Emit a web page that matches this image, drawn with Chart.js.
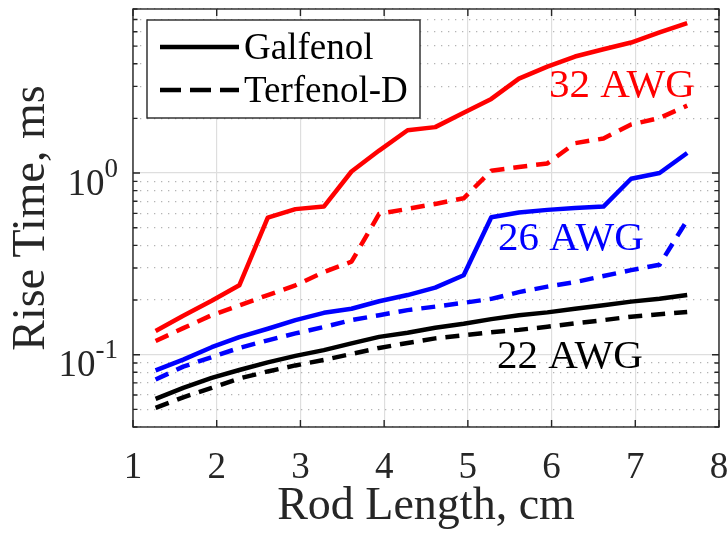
<!DOCTYPE html>
<html>
<head>
<meta charset="utf-8">
<script src="https://cdn.jsdelivr.net/npm/chart.js@4.4.1/dist/chart.umd.min.js"></script>
<style>
  html, body { margin: 0; padding: 0; background: #fff; }
  #wrap { width: 728px; height: 533px; }
</style>
</head>
<body>
<div id="wrap"><canvas id="riseChart"></canvas></div>
<script>
// rod lengths, cm (0.5 in to 3 in)
const rodLength = [1.27, 1.60, 1.94, 2.27, 2.61, 2.94, 3.28, 3.61, 3.94, 4.28,
                   4.61, 4.95, 5.28, 5.61, 5.95, 6.28, 6.62, 6.95, 7.29, 7.62];

// rise time, ms
const galfenol32 = [0.135, 0.164, 0.198, 0.241, 0.569, 0.633, 0.654, 1.02, 1.33, 1.72,
                    1.79, 2.15, 2.56, 3.31, 3.85, 4.38, 4.80, 5.23, 5.94, 6.68];
const terfenol32 = [0.119, 0.140, 0.165, 0.187, 0.213, 0.241, 0.285, 0.325, 0.596, 0.635,
                    0.676, 0.726, 1.03, 1.08, 1.13, 1.46, 1.55, 1.85, 2.01, 2.35];
const galfenol26 = [0.0819, 0.094, 0.110, 0.125, 0.139, 0.155, 0.170, 0.179, 0.197, 0.213,
                    0.234, 0.274, 0.571, 0.607, 0.627, 0.643, 0.654, 0.930, 1.00, 1.29];
const terfenol26 = [0.073, 0.086, 0.097, 0.109, 0.120, 0.131, 0.142, 0.155, 0.165, 0.176,
                    0.184, 0.193, 0.203, 0.221, 0.237, 0.251, 0.271, 0.292, 0.313, 0.55];
const galfenol22 = [0.0571, 0.0657, 0.0745, 0.0824, 0.0907, 0.0985, 0.106, 0.1155, 0.1254, 0.132,
                    0.1406, 0.148, 0.157, 0.165, 0.171, 0.179, 0.187, 0.196, 0.203, 0.213];
const terfenol22 = [0.051, 0.0583, 0.0656, 0.074, 0.0809, 0.0873, 0.0936, 0.101, 0.109, 0.116,
                    0.123, 0.128, 0.133, 0.137, 0.1425, 0.149, 0.155, 0.162, 0.167, 0.172];

const xTicks = [1, 2, 3, 4, 5, 6, 7, 8];
const yTicks = [0.04, 0.05, 0.06, 0.07, 0.08, 0.09, 0.1, 0.2, 0.3, 0.4, 0.5, 0.6, 0.7, 0.8, 0.9,
                1, 2, 3, 4, 5, 6, 7, 8];
const yDecades = [0.1, 1];

const legendNames = ["Galfenol", "Terfenol-D"];
const wireLabels = ["32 AWG", "26 AWG", "22 AWG"];
// label centres in data units (rod length, rise time)
const wireLabelX = [6.84, 6.23, 6.22];
const wireLabelY = [3.0, 0.434, 0.0966];
const wireColors = ["#ff0000", "#0000ff", "#000000"];

const FONT = "'Liberation Serif', 'Times New Roman', serif";
const AXIS_COLOR = "#262626";
const CURVE_DASH = [14, 9];

function series(label, values, color, dashed) {
    return {
        label: label,
        data: values.map((v, i) => ({ x: rodLength[i], y: v })),
        borderColor: color,
        backgroundColor: color,
        borderWidth: 4.5,
        borderDash: dashed ? CURVE_DASH : [],
        borderCapStyle: "butt",
        borderJoinStyle: "round",
        pointRadius: 0,
        pointHoverRadius: 0,
        tension: 0,
        fill: false,
    };
}

const isDecade = (v) => yDecades.some(d => Math.abs(d - v) < 1e-9);

// axes box, inward ticks, decade labels, wire labels and legend
const matlabLook = {
    id: "matlabLook",
    afterDatasetsDraw(chart) {
        const ctx = chart.ctx;
        const xs = chart.scales.x;
        const ys = chart.scales.y;
        ctx.save();
        ctx.textAlign = "center";
        ctx.textBaseline = "middle";
        ctx.font = "41px " + FONT;
        wireLabels.forEach((t, i) => {
            ctx.fillStyle = wireColors[i];
            ctx.fillText(t, xs.getPixelForValue(wireLabelX[i]), ys.getPixelForValue(wireLabelY[i]));
        });
        ctx.restore();
    },
    afterDraw(chart) {
        const ctx = chart.ctx;
        const a = chart.chartArea;
        const xs = chart.scales.x;
        const ys = chart.scales.y;
        ctx.save();

        // frame
        ctx.strokeStyle = AXIS_COLOR;
        ctx.lineWidth = 1.4;
        ctx.setLineDash([]);
        ctx.strokeRect(a.left, a.top, a.right - a.left, a.bottom - a.top);

        // inward ticks
        ctx.beginPath();
        xTicks.forEach(v => {
            const px = xs.getPixelForValue(v);
            ctx.moveTo(px, a.bottom); ctx.lineTo(px, a.bottom - 7);
            ctx.moveTo(px, a.top); ctx.lineTo(px, a.top + 7);
        });
        yTicks.forEach(v => {
            const py = ys.getPixelForValue(v);
            const len = isDecade(v) ? 7 : 4.5;
            ctx.moveTo(a.left, py); ctx.lineTo(a.left + len, py);
            ctx.moveTo(a.right, py); ctx.lineTo(a.right - len, py);
        });
        ctx.stroke();

        // decade labels 10^n
        ctx.fillStyle = AXIS_COLOR;
        ctx.textBaseline = "alphabetic";
        yDecades.forEach(v => {
            const py = ys.getPixelForValue(v);
            const exp = String(Math.round(Math.log10(v)));
            const rightEdge = a.left - 15;
            ctx.font = "27px " + FONT;
            const wExp = ctx.measureText(exp).width;
            ctx.textAlign = "left";
            ctx.fillText(exp, rightEdge - wExp, py + 3.5);
            ctx.font = "37px " + FONT;
            ctx.textAlign = "right";
            ctx.fillText("10", rightEdge - wExp, py + 21.5);
        });

        // legend
        const lx = a.left + 14, ly = a.top + 11, lw = 273, lh = 98;
        ctx.fillStyle = "#ffffff";
        ctx.fillRect(lx, ly, lw, lh);
        ctx.strokeStyle = AXIS_COLOR;
        ctx.lineWidth = 1.4;
        ctx.strokeRect(lx, ly, lw, lh);
        legendNames.forEach((name, i) => {
            const cy = ly + 27 + i * 43;
            ctx.strokeStyle = "#000000";
            ctx.lineWidth = 4.5;
            ctx.lineCap = "butt";
            ctx.setLineDash(i === 0 ? [] : [21, 9]);
            ctx.beginPath();
            ctx.moveTo(lx + 13, cy);
            ctx.lineTo(lx + 92, cy);
            ctx.stroke();
            ctx.setLineDash([]);
            ctx.fillStyle = "#000000";
            ctx.font = "37px " + FONT;
            ctx.textAlign = "left";
            ctx.textBaseline = "middle";
            ctx.fillText(name, lx + 97, cy + 2);
        });
        ctx.restore();
    }
};

const ctxEl = document.getElementById("riseChart").getContext("2d");
new Chart(ctxEl, {
    type: "line",
    data: {
        datasets: [
            series("32 AWG Galfenol", galfenol32, "#ff0000", false),
            series("32 AWG Terfenol-D", terfenol32, "#ff0000", true),
            series("26 AWG Galfenol", galfenol26, "#0000ff", false),
            series("26 AWG Terfenol-D", terfenol26, "#0000ff", true),
            series("22 AWG Galfenol", galfenol22, "#000000", false),
            series("22 AWG Terfenol-D", terfenol22, "#000000", true),
        ]
    },
    options: {
        responsive: true,
        maintainAspectRatio: false,
        animation: false,
        events: [],
        layout: { padding: { left: 5.6, right: 9, top: 9, bottom: 0 } },
        plugins: {
            legend: { display: false },
            tooltip: { enabled: false },
        },
        scales: {
            x: {
                type: "linear",
                min: 1,
                max: 8,
                afterBuildTicks: (s) => { s.ticks = xTicks.map(v => ({ value: v })); },
                afterFit: (s) => { s.height = 106; s.paddingLeft = 0; s.paddingRight = 0; },
                ticks: {
                    color: AXIS_COLOR,
                    font: { family: FONT, size: 37 },
                    padding: 19,
                    maxRotation: 0,
                    autoSkip: false,
                    callback: (v) => String(v),
                },
                grid: { color: "#dedede", lineWidth: 1.2, drawTicks: false },
                border: { display: false },
                title: {
                    display: true,
                    text: "Rod Length, cm",
                    color: AXIS_COLOR,
                    font: { family: FONT, size: 46, lineHeight: 1.15 },
                    padding: { top: 0, bottom: 0 },
                },
            },
            y: {
                type: "logarithmic",
                min: 0.04,
                max: 8,
                afterBuildTicks: (s) => { s.ticks = yTicks.map(v => ({ value: v, major: isDecade(v) })); },
                afterFit: (s) => { s.width = 127.4; s.paddingTop = 0; s.paddingBottom = 0; },
                ticks: {
                    autoSkip: false,
                    callback: () => "",
                },
                grid: {
                    color: (c) => (c.tick && isDecade(c.tick.value)) ? "#dedede" : "#b4b4b4",
                    lineWidth: (c) => (c.tick && isDecade(c.tick.value)) ? 1.2 : 1.3,
                    drawTicks: false,
                },
                border: {
                    display: false,
                    dash: (c) => (c.tick && isDecade(c.tick.value)) ? [] : [1.3, 5.7],
                },
                title: {
                    display: true,
                    text: "Rise Time, ms",
                    color: AXIS_COLOR,
                    font: { family: FONT, size: 46, lineHeight: 1.15 },
                    padding: { top: 0, bottom: 0 },
                },
            }
        }
    },
    plugins: [matlabLook]
});
</script>
</body>
</html>
